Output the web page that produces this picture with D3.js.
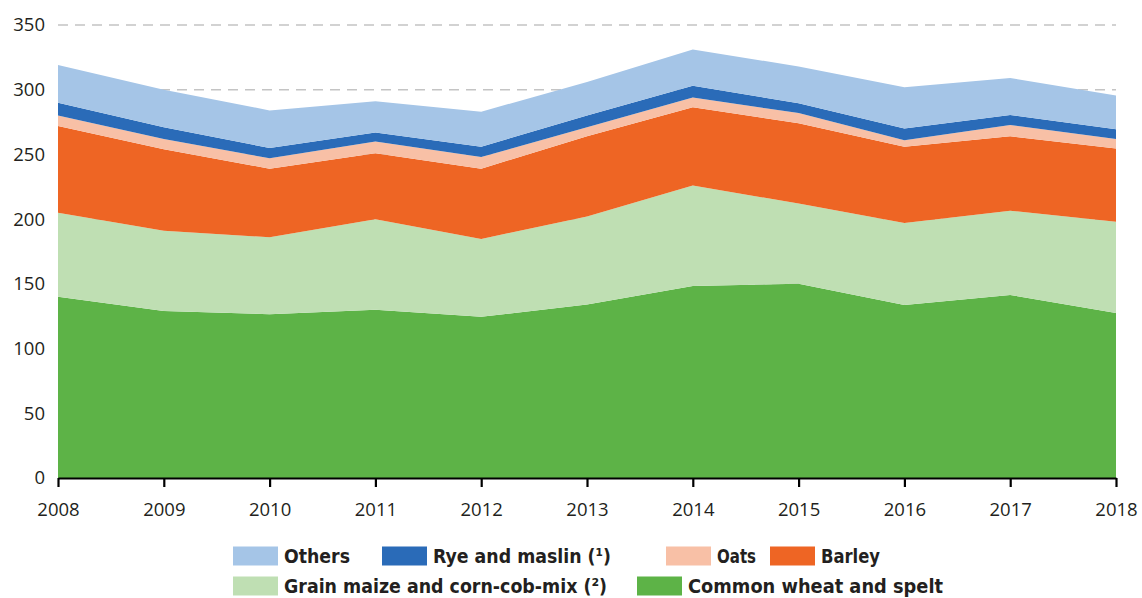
<!DOCTYPE html>
<html>
<head>
<meta charset="utf-8">
<script src="https://cdn.jsdelivr.net/npm/d3@7"></script>
<style>
  html, body { margin: 0; padding: 0; background: #fff; }
  svg { display: block; }
</style>
</head>
<body>
<svg id="chart" width="1142" height="598"></svg>
<script>
// Cereal production by crop, stacked (million tonnes)
const years = [2008, 2009, 2010, 2011, 2012, 2013, 2014, 2015, 2016, 2017, 2018];
const wheat  = [140.0, 129.0, 126.5, 130.0, 124.6, 134.0, 148.3, 150.0, 133.7, 141.4, 127.5];
const maize  = [65.0, 62.0, 59.5, 70.0, 60.1, 68.0, 77.7, 62.0, 63.3, 65.1, 70.5];
const barley = [67.0, 63.0, 53.0, 51.0, 54.3, 62.0, 60.5, 62.0, 59.0, 57.5, 56.5];
const oats   = [8.0, 8.0, 8.0, 9.0, 9.0, 7.0, 7.5, 8.0, 5.0, 8.7, 7.5];
const rye    = [10.0, 9.0, 8.0, 7.0, 8.0, 9.0, 9.0, 7.5, 9.0, 7.8, 7.4];
const others = [29.0, 29.0, 29.0, 24.0, 27.0, 26.0, 28.0, 28.5, 32.0, 28.5, 26.1];

const seriesKeys = ["wheat", "maize", "barley", "oats", "rye", "others"];
const seriesLabels = {
  others: "Others",
  rye: "Rye and maslin (\u00B9)",
  oats: "Oats",
  barley: "Barley",
  maize: "Grain maize and corn-cob-mix (\u00B2)",
  wheat: "Common wheat and spelt"
};
const colors = {
  wheat: "#5db347",
  maize: "#bfdfb3",
  barley: "#ee6524",
  oats: "#f8c0a6",
  rye: "#2a6bb8",
  others: "#a5c5e7"
};
const yTicks = [0, 50, 100, 150, 200, 250, 300, 350];

const table = years.map((y, i) => ({
  year: y, wheat: wheat[i], maize: maize[i], barley: barley[i],
  oats: oats[i], rye: rye[i], others: others[i]
}));

const svg = d3.select("#chart");
const x = d3.scaleLinear().domain([2008, 2018]).range([58, 1116]);
const y = d3.scaleLinear().domain([0, 350]).range([478, 25]);

const tickFont = "'Open Sans', 'Noto Sans', sans-serif";

// dashed gridlines behind the areas
svg.append("g")
  .selectAll("line")
  .data(yTicks.filter(d => d > 0))
  .join("line")
  .attr("x1", x(2008)).attr("x2", x(2018))
  .attr("y1", d => y(d)).attr("y2", d => y(d))
  .attr("stroke", "#c4c4c4")
  .attr("stroke-width", 1.5)
  .attr("stroke-dasharray", "10 7");

const stack = d3.stack().keys(seriesKeys);
const layers = stack(table);

const area = d3.area()
  .x(d => x(d.data.year))
  .y0(d => y(d[0]))
  .y1(d => y(d[1]));

svg.append("g")
  .selectAll("path")
  .data(layers)
  .join("path")
  .attr("d", area)
  .attr("fill", d => colors[d.key]);

// y-axis labels (no line, no ticks)
const yAxis = d3.axisLeft(y).tickValues(yTicks).tickSize(0).tickPadding(0);
const yg = svg.append("g").attr("transform", "translate(45,0)").call(yAxis);
yg.select(".domain").remove();
yg.selectAll("text")
  .attr("font-family", tickFont)
  .attr("font-size", 18.5)
  .attr("fill", "#231f20");

// x-axis with downward ticks
const xAxis = d3.axisBottom(x).tickValues(years).tickFormat(d3.format("d"))
  .tickSize(9).tickSizeOuter(0).tickPadding(16);
const xg = svg.append("g").attr("transform", "translate(0,478)").call(xAxis);
xg.select(".domain").attr("stroke", "#000").attr("stroke-width", 2.2);
xg.selectAll(".tick line").attr("stroke", "#000").attr("stroke-width", 2.2);
xg.selectAll("text")
  .attr("font-family", tickFont)
  .attr("font-size", 18.5)
  .attr("fill", "#231f20");

// legend
const legendItems = [
  { key: "others", sx: 233, row: 0, w: 66 },
  { key: "rye", sx: 382, row: 0, w: 178 },
  { key: "oats", sx: 666, row: 0, w: 39 },
  { key: "barley", sx: 770, row: 0, w: 59 },
  { key: "maize", sx: 233, row: 1, w: 323 },
  { key: "wheat", sx: 637, row: 1, w: 255 }
];
const rowY = [556, 586];
const lg = svg.append("g");
const li = lg.selectAll("g").data(legendItems).join("g");
li.append("rect")
  .attr("x", d => d.sx)
  .attr("y", d => rowY[d.row] - 9.5)
  .attr("width", 45)
  .attr("height", 19)
  .attr("fill", d => colors[d.key]);
li.append("text")
  .attr("x", d => d.sx + 51)
  .attr("y", d => rowY[d.row] + 7)
  .attr("font-family", "'DejaVu Sans Condensed', 'Open Sans', sans-serif")
  .attr("font-stretch", "condensed")
  .attr("font-weight", "bold")
  .attr("font-size", 19.5)
  .attr("textLength", d => d.w)
  .attr("lengthAdjust", "spacingAndGlyphs")
  .attr("fill", "#231f20")
  .text(d => seriesLabels[d.key]);
</script>
</body>
</html>
